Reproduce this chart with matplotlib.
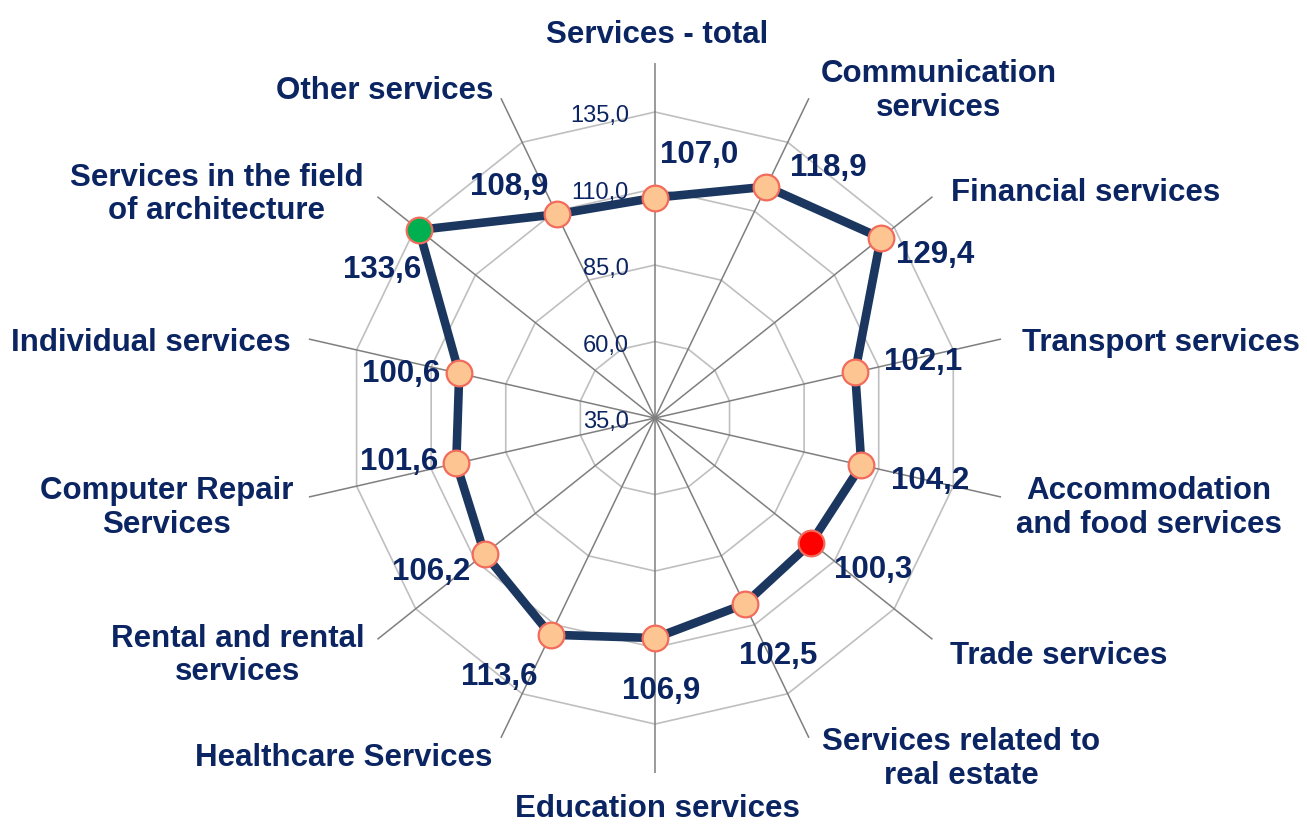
import numpy as np
import matplotlib
matplotlib.use("Agg")
import matplotlib.pyplot as plt

plt.rcParams["font.family"] = ["Liberation Sans", "DejaVu Sans"]

# data
categories = [
    "Services - total",
    "Communication\nservices",
    "Financial services",
    "Transport services",
    "Accommodation\nand food services",
    "Trade services",
    "Services related to\nreal estate",
    "Education services",
    "Healthcare Services",
    "Rental and rental\nservices",
    "Computer Repair\nServices",
    "Individual services",
    "Services in the field\nof architecture",
    "Other services",
]
values = [107.0, 118.9, 129.4, 102.1, 104.2, 100.3, 102.5,
          106.9, 113.6, 106.2, 101.6, 100.6, 133.6, 108.9]
ring_levels = [35.0, 60.0, 85.0, 110.0, 135.0]

# layout (pixel offsets for text)
cat_offsets = [(2, 28), (130, 7), (153, 4), (160, -4), (148, -11), (126, -17),
               (152, -21), (2, -36), (-157, -20), (-140, -16), (-142, -11),
               (-158, -4), (-161, 2), (-116, 7)]
val_offsets = [(44, 43), (62, 19), (54, -17), (68, 10), (69, -16), (62, -27),
               (34, -52), (6, -53), (-51, -42), (-53, -18), (-57, 1),
               (-58, -1), (-37, -40), (-48, 27)]

NAVY = "#0b2462"
LINE = "#1b375f"
r_min, r_max = 35.0, 151.0

n = len(categories)
angles = np.linspace(0, 2 * np.pi, n, endpoint=False)

fig = plt.figure(figsize=(13.07, 8.25), dpi=100)
ax = fig.add_axes([0.2295, 0.063, 0.5432, 0.8606], projection="polar")
ax.set_theta_offset(np.pi / 2)
ax.set_theta_direction(-1)
ax.set_ylim(r_min, r_max)
ax.axis("off")

# rings
closed = np.append(angles, angles[0])
for lvl in ring_levels[1:]:
    ax.plot(closed, [lvl] * (n + 1), color="#bfbfbf", lw=1.2, zorder=1)

# spokes
for a in angles:
    ax.plot([a, a], [r_min, r_max], color="#7f7f7f", lw=1.1, zorder=2)

# series
vals_closed = values + [values[0]]
ax.plot(closed, vals_closed, color=LINE, lw=6.2, zorder=3, solid_joinstyle="round")

imin = int(np.argmin(values))
imax = int(np.argmax(values))
faces = ["#fcc592"] * n
faces[imin] = "#ff0000"
faces[imax] = "#00b050"
for a, v, fc in zip(angles, values, faces):
    ax.plot(a, v, "o", ms=18.5, mfc=fc, mec="#f26b5b", mew=1.6, zorder=4)

# value labels
for a, v, off in zip(angles, values, val_offsets):
    ax.annotate(f"{v:.1f}".replace(".", ","), xy=(a, v), xytext=off,
                textcoords="offset pixels", ha="center", va="center",
                fontsize=22.5, fontweight="bold", color=NAVY, zorder=5)

# category labels
for a, name, off in zip(angles, categories, cat_offsets):
    ax.annotate(name, xy=(a, r_max), xytext=off, textcoords="offset pixels",
                ha="center", va="center", fontsize=22.5, fontweight="bold",
                color=NAVY, linespacing=1.15, annotation_clip=False)

# radial tick labels
for lvl in ring_levels:
    ax.annotate(f"{lvl:.1f}".replace(".", ","), xy=(0, lvl), xytext=(-26, -4),
                textcoords="offset pixels", ha="right", va="center",
                fontsize=17, color=NAVY, zorder=5)

fig.savefig("out.png", dpi=100)
